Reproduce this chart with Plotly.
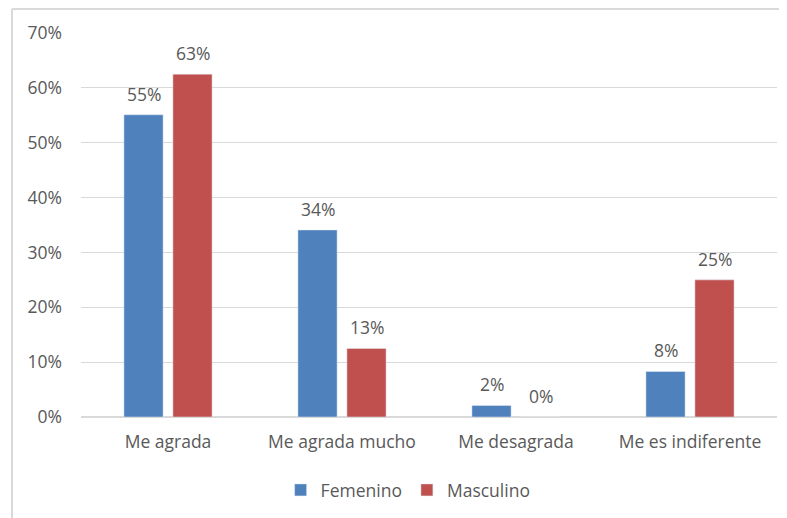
import plotly.graph_objects as go

categorias = ["Me agrada", "Me agrada mucho", "Me desagrada", "Me es indiferente"]
femenino = [55.1, 34.1, 2.1, 8.3]
masculino = [62.5, 12.5, 0.0, 25.0]
ticks_y = [0, 10, 20, 30, 40, 50, 60, 70]

azul = "#4f81bd"
rojo = "#c0504d"
gris_texto = "#595959"
gris_linea = "#d9d9d9"
fuente = "Open Sans"
tam = 17.5

# la pagina agrega 8px de margen al body, por eso la figura es 8px menor
ancho, alto = 779, 510
m_izq, m_der, m_sup, m_inf = 73, 10, 25, 101
alto_plot = alto - m_sup - m_inf
ancho_plot = ancho - m_izq - m_der


def etiqueta(v):
    # redondeo como Excel (mitad hacia arriba)
    return f"{int(v + 0.5)}%"


fig = go.Figure()

fig.add_trace(
    go.Bar(
        x=categorias,
        y=femenino,
        name="Femenino",
        marker=dict(color=azul),
    )
)

fig.add_trace(
    go.Bar(
        x=categorias,
        y=masculino,
        name="Masculino",
        marker=dict(color=rojo),
    )
)

# etiquetas de datos encima de cada barra
for serie, desplaz in [(femenino, -24.5), (masculino, 24.5)]:
    for cat, v in zip(categorias, serie):
        fig.add_annotation(
            x=cat, y=v, xref="x", yref="y",
            text=etiqueta(v),
            showarrow=False,
            xshift=desplaz,
            yanchor="bottom",
            yshift=7,
            font=dict(family=fuente, size=tam, color=gris_texto),
        )

# marco gris claro (solo se ven los bordes izquierdo y superior)
x_marco = (4 - m_izq) / ancho_plot
y_marco = (alto - m_inf - 1) / alto_plot
fig.add_shape(type="line", xref="paper", yref="paper",
              x0=x_marco, x1=x_marco,
              y0=y_marco, y1=-m_inf / alto_plot,
              line=dict(color=gris_linea, width=2))
fig.add_shape(type="line", xref="paper", yref="paper",
              x0=x_marco, x1=1 + m_der / ancho_plot,
              y0=y_marco, y1=y_marco,
              line=dict(color=gris_linea, width=2))

fig.update_layout(
    width=ancho,
    height=alto,
    margin=dict(l=m_izq, r=m_der, t=m_sup, b=m_inf, autoexpand=False),
    paper_bgcolor="white",
    plot_bgcolor="white",
    barmode="group",
    bargap=0.437,
    bargroupgap=0.2,
    font=dict(family=fuente, size=tam, color=gris_texto),
    showlegend=True,
    legend=dict(
        orientation="h",
        x=0.47,
        xanchor="center",
        y=-73 / alto_plot,
        yanchor="middle",
        font=dict(size=tam, color=gris_texto),
    ),
)

fig.update_xaxes(
    showgrid=False,
    showline=False,
    ticks="",
    automargin=False,
    ticklabelstandoff=12,
    tickfont=dict(size=tam, color=gris_texto),
)

fig.update_yaxes(
    range=[0, 70],
    tickvals=ticks_y,
    ticktext=[f"{v}%" for v in ticks_y],
    showgrid=True,
    gridcolor=gris_linea,
    gridwidth=1,
    zeroline=True,
    zerolinecolor=gris_linea,
    showline=False,
    ticks="",
    automargin=False,
    ticklabelstandoff=18,
    tickfont=dict(size=tam, color=gris_texto),
)

fig.write_html("out.html")
